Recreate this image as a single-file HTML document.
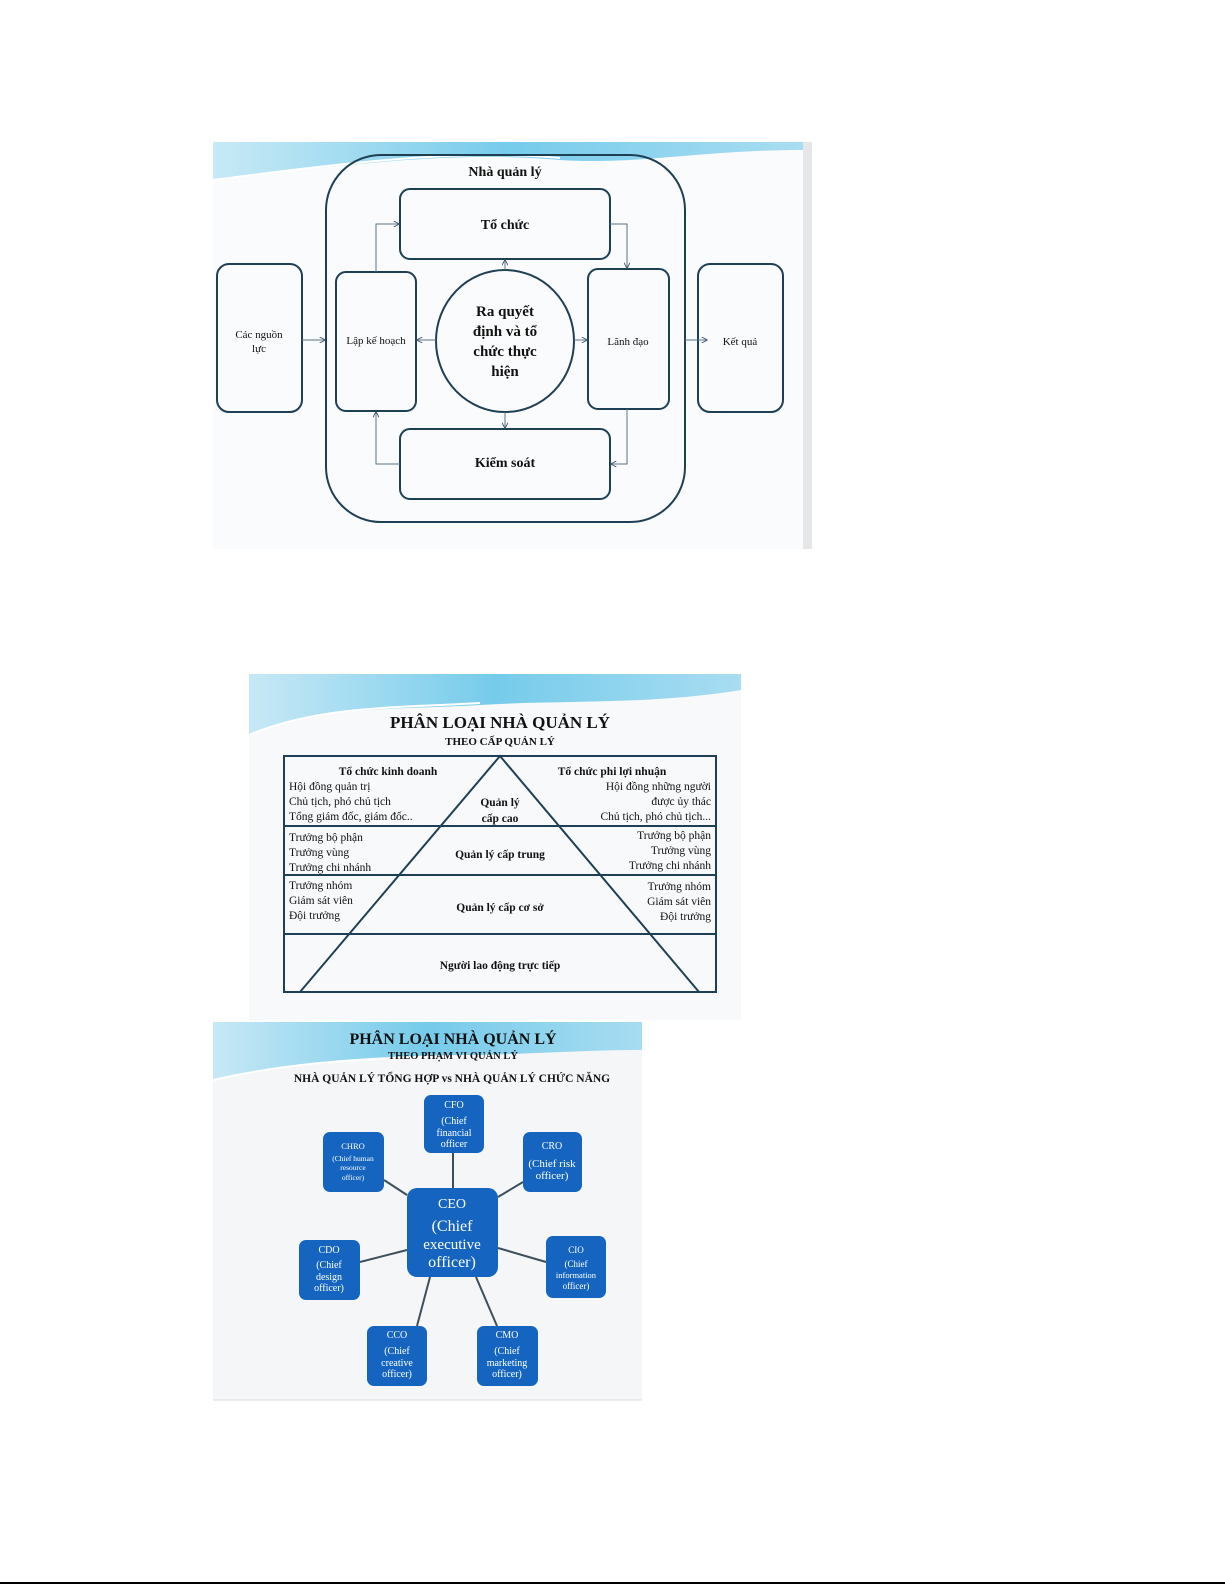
<!DOCTYPE html>
<html><head><meta charset="utf-8"><style>
html,body{margin:0;padding:0;background:#fff;}
svg{display:block;}
text{font-family:"Liberation Serif","DejaVu Serif",serif;}
</style></head><body>
<svg width="1225" height="1585" viewBox="0 0 1225 1585" xmlns="http://www.w3.org/2000/svg">
<defs>
<linearGradient id="wv" x1="0" y1="0" x2="1" y2="0">
<stop offset="0" stop-color="#bfe6f5"/><stop offset="0.5" stop-color="#5fc3e8"/><stop offset="1" stop-color="#9ad8f0"/>
</linearGradient>
<marker id="ar" viewBox="0 0 10 10" refX="9" refY="5" markerWidth="6" markerHeight="6" orient="auto"><path d="M0,0 L10,5 L0,10" fill="none" stroke="#456" stroke-width="1.5"/></marker>
</defs>

<!-- Image 1 -->
<rect x="213" y="142" width="599" height="407" fill="#fafbfc"/>
<rect x="803" y="142" width="9" height="407" fill="#e4e6e8"/>
<path d="M213,142 L803,142 L803,150 C700,150 640,165 560,160 C470,152 380,160 213,180 Z" fill="url(#wv)" opacity="0.85"/>
<path d="M213,180 C380,158 470,150 560,158" fill="none" stroke="#fff" stroke-width="2"/>
<g fill="none" stroke="#1f3f55" stroke-width="2">
<rect x="326" y="155" width="359" height="367" rx="55"/>
<rect x="400" y="189" width="210" height="70" rx="10"/>
<rect x="336" y="272" width="80" height="139" rx="10"/>
<rect x="588" y="269" width="81" height="140" rx="10"/>
<rect x="400" y="429" width="210" height="70" rx="10"/>
<rect x="217" y="264" width="85" height="148" rx="12"/>
<rect x="698" y="264" width="85" height="148" rx="12"/>
<ellipse cx="505" cy="341" rx="69" ry="71"/>
</g>
<g fill="none" stroke="#5a7385" stroke-width="1" marker-end="url(#ar)">
<path d="M302,340 L325,340"/>
<path d="M685,340 L707,340"/>
<path d="M376,272 L376,224 L399,224"/>
<path d="M610,224 L627,224 L627,268"/>
<path d="M627,409 L627,464 L611,464"/>
<path d="M400,464 L376,464 L376,412"/>
<path d="M505,270 L505,260"/>
<path d="M505,412 L505,428"/>
<path d="M436,340 L417,340"/>
<path d="M574,340 L587,340"/>
</g>
<g fill="#111" text-anchor="middle">
<text x="505" y="176" font-size="14" font-weight="bold">Nhà quản lý</text>
<text x="505" y="229" font-size="14" font-weight="bold">Tổ chức</text>
<text x="505" y="467" font-size="14" font-weight="bold">Kiểm soát</text>
<text x="376" y="344" font-size="11">Lập kế hoạch</text>
<text x="628" y="345" font-size="11">Lãnh đạo</text>
<text x="740" y="345" font-size="11">Kết quả</text>
<text x="259" y="338" font-size="11">Các nguồn</text>
<text x="259" y="352" font-size="11">lực</text>
<text x="505" y="316" font-size="15" font-weight="bold">Ra quyết</text>
<text x="505" y="336" font-size="15" font-weight="bold">định và tổ</text>
<text x="505" y="356" font-size="15" font-weight="bold">chức thực</text>
<text x="505" y="376" font-size="15" font-weight="bold">hiện</text>
</g>

<!-- Image 2 -->
<rect x="249" y="674" width="492" height="346" fill="#f7f9fa"/>
<path d="M249,674 L741,674 L741,690 C650,705 560,700 480,705 C400,710 320,705 249,735 Z" fill="url(#wv)" opacity="0.85"/>
<path d="M249,735 C320,705 400,708 480,703" fill="none" stroke="#fff" stroke-width="2"/>
<text x="500" y="728" font-size="17" font-weight="bold" text-anchor="middle" fill="#111">PHÂN LOẠI NHÀ QUẢN LÝ</text>
<text x="500" y="745" font-size="11" font-weight="bold" text-anchor="middle" fill="#111">THEO CẤP QUẢN LÝ</text>
<g fill="none" stroke="#1f3f55" stroke-width="2">
<rect x="284" y="756" width="432" height="236"/>
<line x1="284" y1="826" x2="716" y2="826"/>
<line x1="284" y1="875" x2="716" y2="875"/>
<line x1="284" y1="934" x2="716" y2="934"/>
<path d="M300,992 L500,756 L699,992"/>
</g>
<g fill="#111" font-size="11.5">
<text x="388" y="775" font-weight="bold" text-anchor="middle">Tổ chức kinh doanh</text>
<text x="289" y="790">Hội đồng quản trị</text>
<text x="289" y="805">Chủ tịch, phó chủ tịch</text>
<text x="289" y="820">Tổng giám đốc, giám đốc..</text>
<text x="612" y="775" font-weight="bold" text-anchor="middle">Tổ chức phi lợi nhuận</text>
<g text-anchor="end">
<text x="711" y="790">Hội đồng những người</text>
<text x="711" y="805">được ủy thác</text>
<text x="711" y="820">Chủ tịch, phó chủ tịch...</text>
<text x="711" y="839">Trưởng bộ phận</text>
<text x="711" y="854">Trưởng vùng</text>
<text x="711" y="869">Trưởng chi nhánh</text>
<text x="711" y="890">Trưởng nhóm</text>
<text x="711" y="905">Giám sát viên</text>
<text x="711" y="920">Đội trưởng</text>
</g>
<text x="289" y="841">Trưởng bộ phận</text>
<text x="289" y="856">Trưởng vùng</text>
<text x="289" y="871">Trưởng chi nhánh</text>
<text x="289" y="889">Trưởng nhóm</text>
<text x="289" y="904">Giám sát viên</text>
<text x="289" y="919">Đội trưởng</text>
<g font-weight="bold" text-anchor="middle">
<text x="500" y="806">Quản lý</text>
<text x="500" y="822">cấp cao</text>
<text x="500" y="858">Quản lý cấp trung</text>
<text x="500" y="911">Quản lý cấp cơ sở</text>
<text x="500" y="969">Người lao động trực tiếp</text>
</g>
</g>

<!-- Image 3 -->
<rect x="213" y="1022" width="429" height="378" fill="#f5f6f7"/>
<path d="M213,1022 L642,1022 L642,1050 C580,1050 520,1055 460,1055 C380,1056 300,1060 213,1080 Z" fill="url(#wv)" opacity="0.85"/>
<path d="M213,1080 C300,1060 380,1058 460,1057" fill="none" stroke="#fff" stroke-width="2"/>
<text x="453" y="1044" font-size="16" font-weight="bold" text-anchor="middle" fill="#111">PHÂN LOẠI NHÀ QUẢN LÝ</text>
<text x="453" y="1059" font-size="10.5" font-weight="bold" text-anchor="middle" fill="#111">THEO PHẠM VI QUẢN LÝ</text>
<text x="452" y="1082" font-size="11.5" font-weight="bold" text-anchor="middle" fill="#111">NHÀ QUẢN LÝ TỔNG HỢP vs NHÀ QUẢN LÝ CHỨC NĂNG</text>
<g stroke="#3c4f5c" stroke-width="2">
<line x1="453" y1="1153" x2="453" y2="1188"/>
<line x1="384" y1="1180" x2="407" y2="1195"/>
<line x1="523" y1="1182" x2="498" y2="1197"/>
<line x1="360" y1="1262" x2="407" y2="1250"/>
<line x1="498" y1="1248" x2="546" y2="1262"/>
<line x1="430" y1="1277" x2="417" y2="1326"/>
<line x1="476" y1="1277" x2="497" y2="1326"/>
</g>
<g fill="#1565c0">
<rect x="424" y="1095" width="60" height="58" rx="7"/>
<rect x="323" y="1132" width="61" height="60" rx="7"/>
<rect x="523" y="1132" width="59" height="60" rx="7"/>
<rect x="407" y="1188" width="91" height="89" rx="10"/>
<rect x="299" y="1240" width="61" height="60" rx="7"/>
<rect x="546" y="1236" width="60" height="62" rx="7"/>
<rect x="367" y="1326" width="60" height="60" rx="7"/>
<rect x="477" y="1326" width="61" height="60" rx="7"/>
</g>
<g fill="#fff" text-anchor="middle" font-size="10">
<text x="454" y="1108">CFO</text><text x="454" y="1124">(Chief</text><text x="454" y="1136">financial</text><text x="454" y="1147">officer</text>
<text x="353" y="1149" font-size="8.5">CHRO</text><text x="353" y="1161" font-size="7.5">(Chief human</text><text x="353" y="1170" font-size="7.5">resource</text><text x="353" y="1180" font-size="7.5">officer)</text>
<text x="552" y="1149">CRO</text><text x="552" y="1167" font-size="11">(Chief risk</text><text x="552" y="1179" font-size="11">officer)</text>
<text x="452" y="1208" font-size="14">CEO</text><text x="452" y="1231" font-size="16">(Chief</text><text x="452" y="1249" font-size="15">executive</text><text x="452" y="1267" font-size="16">officer)</text>
<text x="329" y="1253">CDO</text><text x="329" y="1268">(Chief</text><text x="329" y="1280">design</text><text x="329" y="1291">officer)</text>
<text x="576" y="1253" font-size="9">CIO</text><text x="576" y="1267" font-size="9">(Chief</text><text x="576" y="1278" font-size="8.5">information</text><text x="576" y="1289" font-size="9">officer)</text>
<text x="397" y="1338">CCO</text><text x="397" y="1354">(Chief</text><text x="397" y="1366">creative</text><text x="397" y="1377">officer)</text>
<text x="507" y="1338">CMO</text><text x="507" y="1354">(Chief</text><text x="507" y="1366">marketing</text><text x="507" y="1377">officer)</text>
</g>
<line x1="213" y1="1400" x2="642" y2="1400" stroke="#d8dbde" stroke-width="1"/>

<line x1="0" y1="1583" x2="1225" y2="1583" stroke="#000" stroke-width="2"/>
</svg>
</body></html>
